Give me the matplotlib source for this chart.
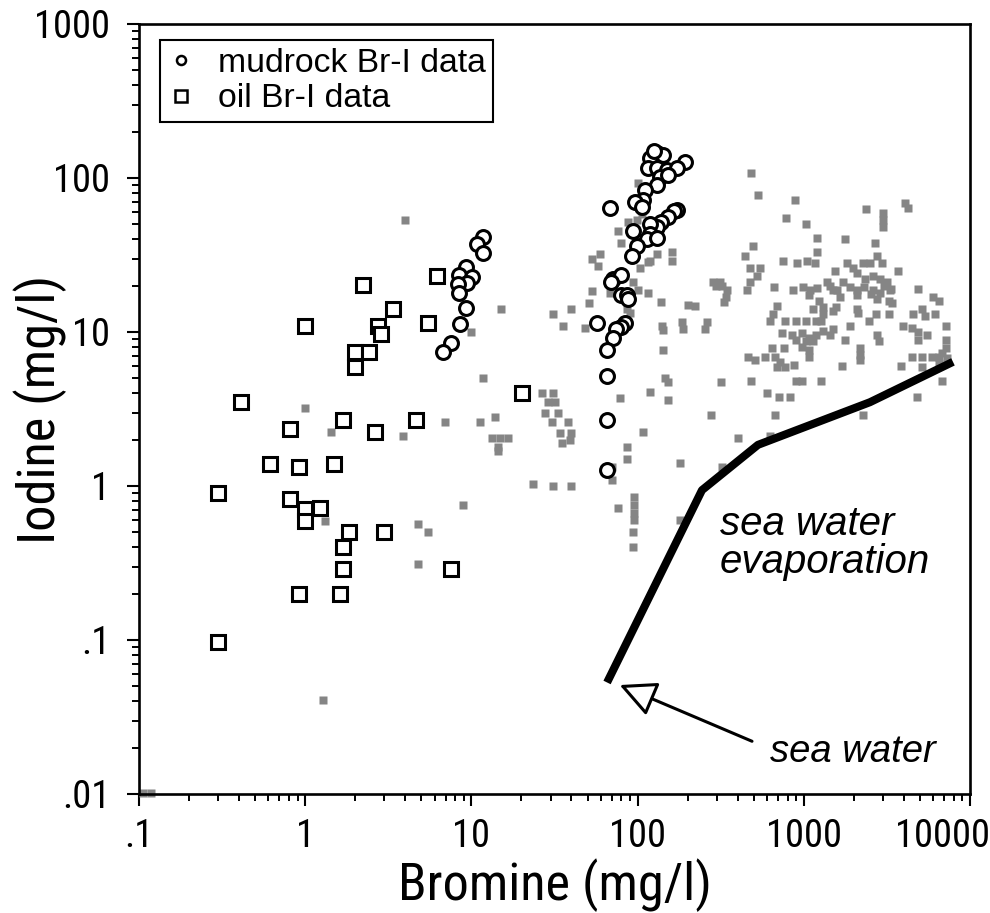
import matplotlib
matplotlib.use('Agg')
import matplotlib.pyplot as plt
from matplotlib.lines import Line2D
from matplotlib.transforms import ScaledTranslation
from matplotlib import font_manager
from matplotlib.font_manager import FontProperties

# ---------------- data ----------------
x_ticks = [0.1, 1, 10, 100, 1000, 10000]
x_tick_labels = ['.1', '1', '10', '100', '1000', '10000']
y_ticks = [0.01, 0.1, 1, 10, 100, 1000]
y_tick_labels = ['.01', '.1', '1', '10', '100', '1000']

# oil Br-I data (open squares)
oil_br = [0.41, 0.81, 0.61, 0.92, 1.49, 1.69, 2.63, 4.64, 20.1, 1.0,
          2.23, 3.38, 2.74, 2.86, 2.0, 2.42, 2.0, 5.48, 6.21, 0.30,
          0.81, 1.0, 1.23, 1.0, 1.84, 2.98, 1.69, 1.69, 7.54, 0.92,
          1.62, 0.30]
oil_i = [3.5, 2.35, 1.39, 1.33, 1.39, 2.68, 2.24, 2.68, 4.0, 10.9,
         20.2, 14.1, 10.9, 9.7, 7.4, 7.4, 5.93, 11.4, 23.1, 0.90,
         0.82, 0.71, 0.72, 0.59, 0.50, 0.50, 0.40, 0.29, 0.29, 0.20,
         0.20, 0.097]

# mudrock Br-I data (open circles)
mud_br = [11.7, 10.8, 11.7, 9.3, 8.4, 10.1, 9.4, 8.3, 8.4, 9.3, 8.5, 7.5, 6.75,
          131, 142, 119, 193, 116, 131, 150, 173, 136, 152,
          131, 111, 108, 96, 106, 68, 173, 165, 152, 138,
          131, 119, 119, 94, 114, 131, 99, 92, 71, 80,
          80, 86, 57, 84, 79, 74, 71, 65.5, 65.5, 65.5,
          65.5, 69, 88, 126]
mud_i = [41.4, 37.3, 32.6, 26.4, 23.5, 22.8, 20.8, 20.6, 17.9, 14.3, 11.3, 8.5, 7.4,
         145, 141, 135, 127, 116, 116, 113, 116, 101, 104,
         90, 84, 72, 70, 65, 64, 62, 61, 56, 52,
         48, 50, 43, 45, 40, 41, 36, 31, 22, 23.5,
         17.4, 17.4, 11.4, 11.4, 10.8, 10.4, 9.1, 7.6, 5.2, 2.68,
         1.27, 21, 16.5, 150]

# formation-water data (small grey squares)
brine_br = [
    4.0, 15, 10, 11.7, 1.0, 1.43, 3.9, 6.9, 11.3, 13.9, 13.3, 14.9, 16.6, 14.5,
    1.32, 23.5, 8.9, 4.8, 5.5, 4.8, 1.28, 0.105, 0.118, 14.5, 31, 40, 35.5,
    26.6, 31, 29, 32, 27.7, 33, 30.5, 38, 34, 40, 35, 39, 31, 40,
    51, 53, 48, 53, 59, 58, 76, 80, 88, 99, 106, 100, 94, 100, 115, 90, 138,
    115, 131, 161, 161, 119, 103, 142, 142, 152, 152, 146, 119, 78, 108, 318,
    275, 68, 86, 140, 200, 220, 185, 188, 262, 255, 296, 322, 340, 330, 284,
    86, 86, 70, 70, 180, 322, 400, 626, 76, 95, 95, 95, 95, 94, 94, 180,
    480, 530, 885, 780, 1030, 1200, 1770, 2370, 3000, 3000, 3000, 4060, 4250, 2700,
    495, 443, 750, 910, 1045, 1200, 1170, 475, 545, 520, 475, 455, 313, 345,
    660, 860, 990, 1090, 1200, 1380, 1500, 1650, 1540, 1820, 1980, 2270, 2500, 2760,
    2950, 2090, 2340, 2610, 2870, 3170, 3300, 1900, 2090, 3690, 4870, 6000, 2610, 2870,
    1070, 1230, 1300, 1440, 1590, 1720, 2090, 2300, 2540, 2760, 3040, 3350, 3260, 6500,
    690, 650, 626, 1140, 1300, 1500, 1270, 1560, 2090, 2720, 2470, 3260, 4540, 5140,
    5360, 6150, 3950, 4480, 4870, 5520, 4870, 7180, 7180, 7180, 6800, 7300,
    770, 900, 1030, 1180, 1500, 740, 850, 975, 1070, 1180, 1300, 1440, 900, 1030,
    1140, 1900, 1770, 2760, 2830, 975, 1070, 1070, 644, 760, 670, 720, 770, 690,
    460, 508, 583, 873, 2180, 2180, 2180, 1700, 3850, 4480, 5140, 5900, 6500, 5140,
    6500, 480, 900, 975, 1270, 6800, 600, 710, 825, 4800, 670, 2270, 3400, 2120]
brine_i = [
    53, 14, 10, 5.0, 3.2, 2.25, 2.1, 2.6, 2.6, 2.8, 2.05, 2.05, 2.05, 1.8,
    0.59, 1.03, 0.75, 0.57, 0.50, 0.31, 0.041, 0.0102, 0.0102, 1.7, 13, 14, 11,
    4.0, 4.0, 3.5, 3.5, 3.0, 3.0, 2.6, 2.6, 2.2, 2.2, 1.9, 2.0, 1.0, 1.0,
    15.4, 18.5, 10.6, 30, 32, 27, 45, 38, 52, 53, 58, 93, 21, 18.7, 18, 13.3, 15.7,
    28.5, 32, 33, 29, 29, 26, 10.3, 7.6, 4.7, 3.6, 5.0, 4.1, 3.7, 2.25, 4.7,
    2.9, 18, 14, 11, 15, 14.7, 11.6, 10.5, 11.6, 10.5, 20, 20, 17, 15.7, 21,
    1.8, 1.5, 1.33, 1.1, 1.4, 1.33, 2.05, 2.1, 0.72, 0.85, 0.75, 0.67, 0.60, 0.50, 0.40, 0.60,
    108, 78, 72, 55, 50, 41, 40, 63, 59, 53, 48, 69, 64, 38,
    36, 31, 29, 28, 29, 33, 28, 26, 26, 23, 21, 18.7, 21, 18.7,
    19.6, 18.7, 19.6, 18.7, 19.2, 21, 18.7, 17, 25, 28, 26, 28, 28, 31,
    28, 24, 22, 23, 22, 21, 18.7, 19.6, 18.7, 25, 19, 17, 18.7, 17.9,
    17.4, 16, 14.5, 20, 18.7, 21, 17.4, 19.6, 17.6, 16.4, 20, 19, 16, 16,
    14.8, 13, 11.8, 14, 13.1, 13.6, 11.8, 14.5, 14.1, 13, 11.8, 13, 13, 14,
    12.7, 13, 11, 10.6, 10, 9.6, 8.9, 11, 8.9, 7.9, 7.3, 6.8,
    11.8, 11.8, 11.8, 11.8, 10.5, 9.9, 9.6, 9.9, 9.1, 9.6, 10.1, 9.6, 8.9, 8.7,
    8.7, 11, 8.9, 9.6, 8.7, 8.0, 7.6, 6.9, 7.9, 7.9, 6.9, 6.4, 5.9, 5.9,
    6.9, 6.6, 6.9, 6.1, 7.9, 7.1, 6.6, 6.0, 6.0, 6.9, 6.9, 6.9, 6.9, 5.9,
    6.2, 4.8, 4.8, 4.8, 4.8, 4.8, 4.0, 3.8, 3.8, 3.8, 2.9, 2.9, 15.4, 13.3]

# sea water evaporation trend
evap_br = [65.5, 244, 530, 2500, 7900]
evap_i = [0.053, 0.94, 1.85, 3.5, 6.4]
sea_water_br, sea_water_i = 78, 0.051

# ---------------- fonts ----------------
def pick_narrow():
    wanted = ['Liberation Sans Narrow', 'Arial Narrow', 'Roboto Condensed',
              'Open Sans Condensed', 'Noto Sans Condensed']
    fl = font_manager.fontManager.ttflist
    for w in wanted:
        for f in fl:
            if f.name == w and f.style == 'normal' and f.weight in (400, 'normal', 'regular'):
                return FontProperties(fname=f.fname)
    for f in fl:
        if (('Narrow' in f.name or 'Condensed' in f.name) and f.style == 'normal'
                and f.weight in (400, 'normal', 'regular')):
            return FontProperties(fname=f.fname)
    return FontProperties(family='Liberation Sans')

narrow_fp = pick_narrow()
reg = 'Liberation Sans'

# ---------------- figure ----------------
fig = plt.figure(figsize=(9.9, 9.13), dpi=100)
renderer = fig.canvas.get_renderer()

def size_for(text, fp, target_px, max_size):
    p = fp.copy()
    p.set_size(20)
    t = fig.text(0, 0, text, fontproperties=p)
    w = t.get_window_extent(renderer).width
    t.remove()
    return min(max_size, 20 * target_px / w)

tick_size = size_for('1000', narrow_fp, 76, 30)
label_size = size_for('Bromine (mg/l)', narrow_fp, 314, 42)
legend_size = size_for('mudrock Br-I data', FontProperties(family=reg), 268, 26)

ax = fig.add_axes([139 / 990, 1 - 794 / 913, (970 - 139) / 990, (794 - 24) / 913])
ax.set_xscale('log')
ax.set_yscale('log')
ax.set_xlim(0.1, 10000)
ax.set_ylim(0.01, 1000)

ax.plot(brine_br, brine_i, 's', ms=5.8, color='#858585', mec='none', zorder=2, clip_on=False)
ax.plot(oil_br, oil_i, 's', ms=9.8, mfc='white', mec='black', mew=2.2, zorder=3)
ax.plot(mud_br, mud_i, 'o', ms=10, mfc='white', mec='black', mew=2.2, zorder=4)
ax.plot(evap_br, evap_i, '-', color='black', lw=5.8, solid_capstyle='butt', zorder=5)

ax.annotate('', xy=(sea_water_br, sea_water_i), xytext=(488, 0.022),
            arrowprops=dict(arrowstyle='-|>,head_length=0.45,head_width=0.22',
                            fc='white', ec='black', lw=2.2,
                            mutation_scale=50, shrinkA=0, shrinkB=0), zorder=6)

ax.text(313, 0.481, 'sea water', fontsize=29, style='italic', family=reg,
        ha='left', va='baseline')
ax.text(313, 0.272, 'evaporation', fontsize=29, style='italic', family=reg,
        ha='left', va='baseline')
ax.text(626, 0.0161, 'sea water', fontsize=27.5, style='italic', family=reg,
        ha='left', va='baseline')

# ticks
ax.set_xticks(x_ticks)
ax.set_xticklabels(x_tick_labels)
ax.set_yticks(y_ticks)
ax.set_yticklabels(y_tick_labels)
ax.tick_params(which='major', direction='out', length=8.6, width=1.5, pad=12,
               top=False, right=False)
ax.tick_params(axis='x', which='major', pad=9)
ax.tick_params(which='minor', direction='out', length=5, width=1.4,
               top=False, right=False)
for lab in ax.get_xticklabels() + ax.get_yticklabels():
    p = narrow_fp.copy()
    p.set_size(tick_size)
    lab.set_fontproperties(p)
last = ax.get_xticklabels()[-1]
last.set_transform(last.get_transform() + ScaledTranslation(-28 / 100, 0, fig.dpi_scale_trans))

for sp in ax.spines.values():
    sp.set_linewidth(1.9)

lp = narrow_fp.copy()
lp.set_size(label_size)
ax.set_xlabel('Bromine (mg/l)', fontproperties=lp)
ax.set_ylabel('Iodine (mg/l)', fontproperties=lp)
ax.xaxis.set_label_coords(0.5, (794 - 885) / 770)
ax.yaxis.set_label_coords((40 - 139) / 831, 0.5)
ax.xaxis.label.set_va('center')
ax.yaxis.label.set_va('center')
ax.yaxis.label.set_ha('center')

handles = [Line2D([], [], marker='o', ls='none', ms=6.5, mfc='white', mec='black', mew=1.8),
           Line2D([], [], marker='s', ls='none', ms=8.5, mfc='white', mec='black', mew=1.8)]
leg = ax.legend(handles, ['mudrock Br-I data', 'oil Br-I data'], loc='upper left',
                bbox_to_anchor=(0.025, 0.979), borderaxespad=0, frameon=True,
                fancybox=False, edgecolor='black', framealpha=1,
                prop={'family': reg, 'size': legend_size}, handlelength=0.8,
                handletextpad=0.7, borderpad=0.22, labelspacing=0.14)
leg.get_frame().set_linewidth(1.5)

fig.savefig('out.png', dpi=100)
